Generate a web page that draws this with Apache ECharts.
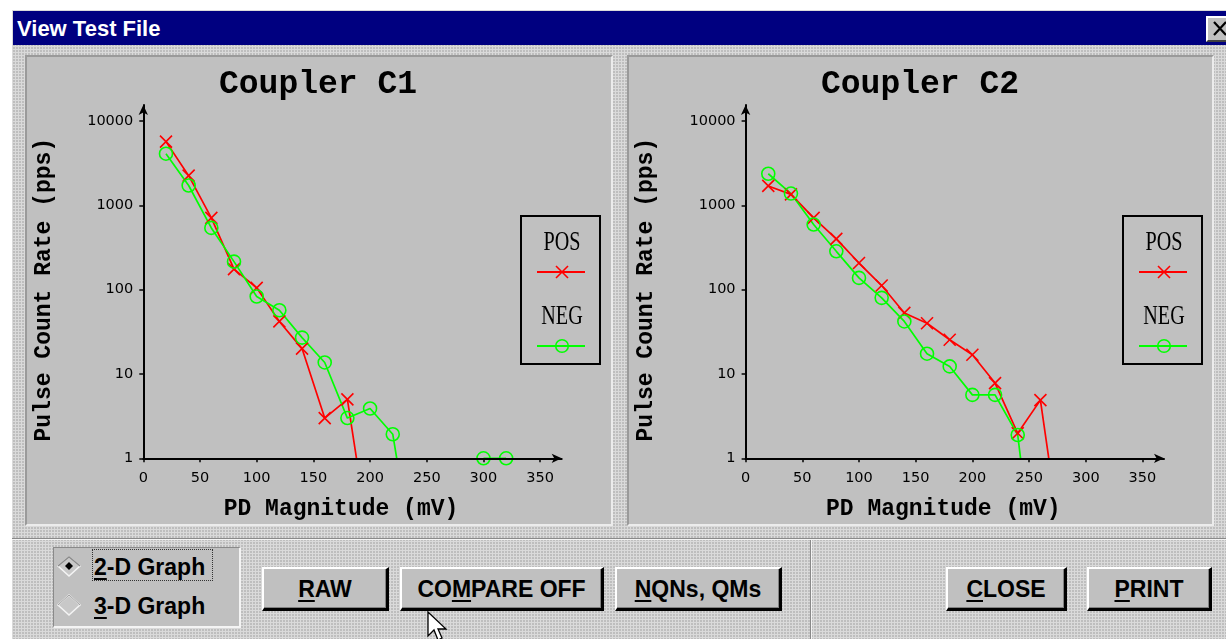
<!DOCTYPE html>
<html>
<head>
<meta charset="utf-8">
<script src="https://cdn.jsdelivr.net/npm/echarts@6/dist/echarts.min.js"></script>
<style>
  html, body { margin:0; padding:0; background:#fff; width:1226px; height:639px; overflow:hidden; }
  .abs { position:absolute; box-sizing:border-box; }
  #win { left:12px; top:10px; width:1214px; height:629px;
         background-color:#bebebe;
         background-image: linear-gradient(90deg, #dadada 1px, transparent 1px), linear-gradient(#dadada 1px, transparent 1px);
         background-size:3px 3px; }
  #titlebar { left:13px; top:11px; width:1213px; height:34px; background:#000080; }
  #titletext { left:17px; top:16px; height:30px; line-height:30px; color:#fff; font:bold 22px "Liberation Sans", Arial, sans-serif; }
  #closebtn { left:1206px; top:16px; width:26px; height:26px; background:#c0c0c0; border-top:2px solid #fff; border-left:2px solid #fff; border-bottom:2px solid #404040; }
  .panel { top:55px; height:471px; background:#c0c0c0; border-top:2px solid #9a9a9a; border-left:2px solid #9a9a9a; border-right:2px solid #ececec; border-bottom:2px solid #ececec; }
  #groove { left:12px; top:538px; width:1214px; height:2px; border-top:1px solid #8a8a8a; border-bottom:1px solid #f4f4f4; }
  #vdiv { left:810px; top:540px; width:2px; height:99px; border-left:1px solid #8a8a8a; border-right:1px solid #f4f4f4; }
  #group { left:53px; top:547px; width:188px; height:81px; background:#c0c0c0; border-top:1px solid #8a8a8a; border-left:1px solid #8a8a8a; border-right:2px solid #f4f4f4; border-bottom:2px solid #f4f4f4; }
  .lbl { font:bold 23px "Liberation Sans", Arial, sans-serif; color:#000; white-space:nowrap; }
  .btn { top:567px; height:44px; background:#c0c0c0; border-top:2px solid #fff; border-left:2px solid #fff; border-right:3px solid #000; border-bottom:3px solid #000;
         box-shadow: inset -1px -1px 0 #808080; text-align:center; padding-top:7px; line-height:32px; font:bold 23px "Liberation Sans", Arial, sans-serif; color:#000; }
  u { text-decoration:underline; text-underline-offset:3px; }
  #focus { left:92px; top:549px; width:121px; height:32px; border:1px dotted #333; }
  #chart { left:0; top:0; width:1226px; height:639px; z-index:5; }
</style>
</head>
<body>
<div id="win" class="abs"></div>
<div id="titlebar" class="abs"></div>
<div id="titletext" class="abs">View Test File</div>
<div id="closebtn" class="abs">
  <svg width="24" height="22" style="position:absolute;left:0;top:0"><path d="M6 4 L18 17 M18 4 L6 17" stroke="#000" stroke-width="2.2"/></svg>
</div>
<div class="abs panel" style="left:25px;width:588px"></div>
<div class="abs panel" style="left:627px;width:587px"></div>
<div id="groove" class="abs"></div>
<div id="vdiv" class="abs"></div>
<div id="group" class="abs"></div>
<svg class="abs" style="left:56px;top:554px" width="28" height="70">
  <polygon points="13,3 24,12 13,22 2,12" fill="#c8c8c8" stroke="#f4f4f4" stroke-width="1.5"/>
  <polyline points="2,12 13,3 24,12" fill="none" stroke="#8a8a8a" stroke-width="1.5"/>
  <polygon points="13,8 17,12 13,16 9,12" fill="#000"/>
  <polygon points="13,41 24,51 13,61 2,51" fill="#c8c8c8" stroke="#f4f4f4" stroke-width="1.5"/>
  <polyline points="2,51 13,41 24,51" fill="none" stroke="#a0a0a0" stroke-width="1"/>
</svg>
<div id="focus" class="abs"></div>
<div class="abs lbl" style="left:94px;top:552px;line-height:30px"><u>2</u>-D Graph</div>
<div class="abs lbl" style="left:94px;top:591px;line-height:30px"><u>3</u>-D Graph</div>
<div class="abs btn" style="left:262px;width:127px"><u>R</u>AW</div>
<div class="abs btn" style="left:400px;width:204px">CO<u>M</u>PARE OFF</div>
<div class="abs btn" style="left:615px;width:167px"><u>N</u>QNs, QMs</div>
<div class="abs btn" style="left:946px;width:121px"><u>C</u>LOSE</div>
<div class="abs btn" style="left:1087px;width:125px"><u>P</u>RINT</div>
<svg class="abs" style="left:426px;top:610px;z-index:6" width="24" height="32">
  <polygon points="2,2 2,26 8,20 12,30 16,28 12,19 20,19" fill="#fff" stroke="#000" stroke-width="1.3"/>
</svg>
<div id="chart" class="abs"></div>
<script>
// ---- data ----
const xTickValues = [0, 50, 100, 150, 200, 250, 300, 350];
const yTickValues = [1, 10, 100, 1000, 10000];
const chartTitles = ['Coupler C1', 'Coupler C2'];
const seriesNames = ['POS', 'NEG'];

// Coupler C1
const c1PosX = [20, 40, 60, 80, 100, 120, 140, 160, 180, 200];
const c1PosY = [5700, 2250, 710, 175, 105, 42, 20, 3.0, 5.0, 0.09];
const c1NegX = [20, 40, 60, 80, 100, 120, 140, 160, 180, 200, 220, 240, 260, 300, 320];
const c1NegY = [4100, 1720, 540, 215, 83, 57, 27, 13.7, 3.0, 3.9, 1.93, 0.045, null, 1, 1];

// Coupler C2
const c2PosX = [20, 40, 60, 80, 100, 120, 140, 160, 180, 200, 220, 240, 260, 280];
const c2PosY = [1700, 1350, 710, 400, 207, 112, 53, 40, 25.5, 16.9, 7.8, 1.98, 4.9, 0.066];
const c2NegX = [20, 40, 60, 80, 100, 120, 140, 160, 180, 200, 220, 240, 260];
const c2NegY = [2370, 1380, 592, 285, 138, 80, 42, 17.4, 12.3, 5.65, 5.65, 1.89, 0.0115];

// ---- chart ----
const RED = '#ff0000', GREEN = '#00ff00';
const pair = (xs, ys) => xs.map((x, i) => [x, ys[i] == null ? '-' : ys[i]]);
const CROSS = 'path://M0,0L10,10M10,0L0,10';

const gridLefts = [143.3, 745.6];
const titleCenters = [318, 920];
const legendLefts = [521, 1123];

const monoBold = { fontFamily: 'Liberation Mono', fontWeight: 'bold', color: '#000' };

function xAxisFor(i) {
  return {
    gridIndex: i, type: 'value', min: 0, max: 369, interval: 50, z: 5,
    axisLine: { show: true, onZero: false, symbol: ['none', 'arrow'], symbolSize: [7, 10], lineStyle: { color: '#000', width: 2 } },
    axisTick: { show: true, length: 4, lineStyle: { color: '#000', width: 1.5 } },
    axisLabel: { showMaxLabel: false, margin: 12, fontFamily: 'DejaVu Sans', fontSize: 14.5, color: '#000',
                 formatter: v => String(v) },
    splitLine: { show: false },
    name: 'PD Magnitude (mV)', nameLocation: 'middle', nameGap: 39,
    nameTextStyle: Object.assign({ fontSize: 23, padding: [0, 23, 0, 0] }, monoBold)
  };
}
function yAxisFor(i) {
  return {
    gridIndex: i, type: 'log', logBase: 10, min: 1, max: 15500, z: 5,
    axisLine: { show: true, onZero: false, symbol: ['none', 'arrow'], symbolSize: [7, 10], lineStyle: { color: '#000', width: 2 } },
    axisTick: { show: true, length: 4, lineStyle: { color: '#000', width: 1.5 } },
    axisLabel: { showMaxLabel: false, margin: 10, fontFamily: 'DejaVu Sans', fontSize: 14.5, color: '#000',
                 formatter: v => String(Math.round(v)) },
    splitLine: { show: false },
    name: 'Pulse Count Rate (pps)', nameLocation: 'middle', nameGap: 88,
    nameTextStyle: Object.assign({ fontSize: 23, padding: [0, 16, 0, 0] }, monoBold)
  };
}
function seriesFor(i, name, data) {
  const isPos = name === 'POS';
  const c = isPos ? RED : GREEN;
  return {
    type: 'line', name: name, xAxisIndex: i, yAxisIndex: i, data: data,
    clip: true, connectNulls: false, animation: false,
    symbol: isPos ? CROSS : 'circle', symbolSize: isPos ? 12 : 13,
    lineStyle: { color: c, width: 1.7 },
    itemStyle: { color: 'rgba(0,0,0,0)', borderColor: c, borderWidth: 1.6 },
    emphasis: { disabled: true }, z: 2
  };
}
function legendGraphics(x0) {
  const cx = x0 + 41;
  return [
    { type: 'rect', shape: { x: x0, y: 216, width: 79, height: 148 }, style: { fill: 'none', stroke: '#000', lineWidth: 2 }, z: 10 },
    { type: 'text', x: cx, y: 243, scaleX: 0.72, style: { text: seriesNames[0], font: '28px "Liberation Serif"', fill: '#000', align: 'center', verticalAlign: 'middle' }, z: 10 },
    { type: 'line', shape: { x1: x0 + 16, y1: 272, x2: x0 + 64, y2: 272 }, style: { stroke: RED, lineWidth: 1.8 }, z: 10 },
    { type: 'line', shape: { x1: cx - 6, y1: 266, x2: cx + 6, y2: 278 }, style: { stroke: RED, lineWidth: 1.6 }, z: 10 },
    { type: 'line', shape: { x1: cx - 6, y1: 278, x2: cx + 6, y2: 266 }, style: { stroke: RED, lineWidth: 1.6 }, z: 10 },
    { type: 'text', x: cx, y: 317, scaleX: 0.72, style: { text: seriesNames[1], font: '28px "Liberation Serif"', fill: '#000', align: 'center', verticalAlign: 'middle' }, z: 10 },
    { type: 'line', shape: { x1: x0 + 16, y1: 346, x2: x0 + 64, y2: 346 }, style: { stroke: GREEN, lineWidth: 1.8 }, z: 10 },
    { type: 'circle', shape: { cx: cx, cy: 346, r: 6.3 }, style: { fill: 'none', stroke: GREEN, lineWidth: 1.6 }, z: 10 }
  ];
}

const chart = echarts.init(document.getElementById('chart'), null, { renderer: 'canvas' });
chart.setOption({
  backgroundColor: 'transparent',
  animation: false,
  title: chartTitles.map((t, i) => ({
    text: t, left: titleCenters[i], top: 68, textAlign: 'center', padding: 0,
    textStyle: Object.assign({ fontSize: 33 }, monoBold)
  })),
  grid: gridLefts.map(l => ({ left: l, top: 105, width: 418.4, height: 353.3, containLabel: false })),
  xAxis: [xAxisFor(0), xAxisFor(1)],
  yAxis: [yAxisFor(0), yAxisFor(1)],
  series: [
    seriesFor(0, 'POS', pair(c1PosX, c1PosY)),
    seriesFor(0, 'NEG', pair(c1NegX, c1NegY)),
    seriesFor(1, 'POS', pair(c2PosX, c2PosY)),
    seriesFor(1, 'NEG', pair(c2NegX, c2NegY))
  ],
  graphic: legendGraphics(legendLefts[0]).concat(legendGraphics(legendLefts[1]))
});
</script>
</body>
</html>
